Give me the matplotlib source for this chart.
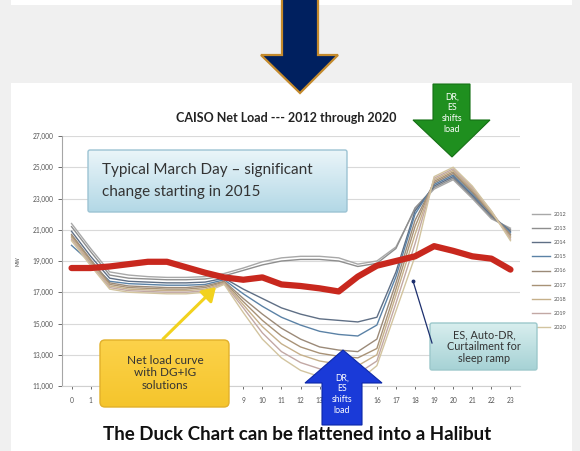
import matplotlib
matplotlib.use('Agg')
import matplotlib.pyplot as plt
from matplotlib.patches import Polygon, FancyBboxPatch, Rectangle
import numpy as np

# CAISO net load, typical March day, MW by hour
hours = list(range(24))
years = ['2012', '2013', '2014', '2015', '2016', '2017', '2018', '2019', '2020']
load_2012 = [21400, 19800, 18300, 18100, 18000, 17950, 17950, 18000, 18200, 18550, 18950, 19200,
             19300, 19300, 19200, 18800, 19000, 19900, 22300, 23600, 24200, 23000, 21700, 21100]
load_2013 = [21200, 19600, 18100, 17900, 17850, 17800, 17800, 17850, 18050, 18400, 18750, 19000,
             19100, 19100, 19000, 18650, 18850, 19800, 22400, 23700, 24300, 23100, 21800, 21000]
load_2014 = [20900, 19300, 17900, 17700, 17650, 17600, 17600, 17650, 17900, 17200, 16600, 16000,
             15600, 15300, 15200, 15100, 15400, 18300, 22200, 23800, 24400, 23200, 21900, 20900]
load_2015 = [20000, 18900, 17700, 17550, 17500, 17450, 17450, 17500, 17800, 16900, 16100, 15400,
             14900, 14500, 14300, 14200, 14900, 18000, 22000, 23900, 24500, 23300, 22000, 20800]
load_2016 = [20700, 19100, 17600, 17400, 17350, 17300, 17300, 17400, 17700, 16600, 15600, 14700,
             14000, 13500, 13300, 13200, 14000, 17600, 21600, 24000, 24600, 23400, 22000, 20700]
load_2017 = [20600, 19000, 17500, 17300, 17250, 17200, 17200, 17300, 17650, 16400, 15200, 14200,
             13500, 13100, 12900, 12800, 13400, 17200, 21200, 24100, 24700, 23500, 22100, 20600]
load_2018 = [20500, 18900, 17400, 17200, 17150, 17100, 17100, 17200, 17600, 16200, 14800, 13700,
             13000, 12600, 12400, 12300, 13000, 16800, 20700, 24200, 24800, 23600, 22100, 20500]
load_2019 = [20400, 18800, 17300, 17100, 17050, 17000, 17000, 17100, 17550, 16000, 14400, 13200,
             12500, 12100, 11900, 11800, 12600, 16300, 20100, 24300, 24900, 23700, 22200, 20400]
load_2020 = [20300, 18700, 17200, 17000, 16950, 16900, 16900, 17000, 17500, 15700, 14000, 12800,
             12000, 11600, 11400, 11300, 12300, 15800, 19300, 24400, 25000, 23800, 22200, 20300]
halibut = [18550, 18550, 18650, 18800, 18950, 18950, 18600, 18250, 17950, 17800, 17950, 17500,
           17400, 17250, 17050, 18000, 18700, 19000, 19300, 19950, 19650, 19300, 19150, 18450]
year_colors = ['#a8a8a8', '#8e8e8e', '#5f6f85', '#5b82a6', '#9b8a78', '#a89276', '#c6b08a',
               '#c2a8a4', '#d2c49f']
yticks = list(range(11000, 27001, 2000))
# hour labels hidden behind the blue arrow are left blank
xlabels = [str(h) if h not in (14, 15) else '' for h in hours]

plt.rcParams['font.family'] = ['Lato', 'DejaVu Sans']

fig = plt.figure(figsize=(5.8, 4.51), dpi=100, facecolor='#f0f0f0')

# background slide panels (pixel coordinates)
bg = fig.add_axes([0, 0, 1, 1], zorder=-1)
bg.set_xlim(0, 580)
bg.set_ylim(451, 0)
bg.axis('off')
bg.add_patch(Rectangle((11, 0), 561, 5, facecolor='white', edgecolor='none'))
bg.add_patch(Rectangle((11, 83), 561, 400, facecolor='white', edgecolor='none'))

# main chart
ax = fig.add_axes([62 / 580, 1 - 386 / 451, 458 / 580, 250 / 451], zorder=1)
ax.set_facecolor('none')
series = [load_2012, load_2013, load_2014, load_2015, load_2016, load_2017, load_2018,
          load_2019, load_2020]
for yr, vals, c in zip(years, series, year_colors):
    ax.plot(hours, vals, color=c, lw=1.0, label=yr)
ax.plot(hours, halibut, color='#c8281e', lw=4.5, solid_capstyle='round', zorder=5)

ax.set_xlim(-0.5, 23.5)
ax.set_ylim(11000, 27000)
ax.set_yticks(yticks)
ax.set_yticklabels([f'{v:,}' for v in yticks])
ax.set_xticks(hours)
ax.set_xticklabels(xlabels)
ax.grid(axis='y', color='#d9d9d9', lw=0.8)
ax.set_axisbelow(True)
for s in ['top', 'right']:
    ax.spines[s].set_visible(False)
ax.spines['left'].set_color('#a6a6a6')
ax.spines['bottom'].set_color('#d0d0d0')
ax.tick_params(axis='y', labelsize=4.8, colors='#555555', length=3, pad=3, width=0.6)
ax.tick_params(axis='x', labelsize=4.8, colors='#555555', length=2, pad=6, width=0.6)
ax.set_ylabel('MW', fontsize=3.5, color='#444444', labelpad=9)
ax.legend(loc='center left', bbox_to_anchor=(1.015, 0.46), frameon=False, fontsize=4,
          handlelength=3.2, labelspacing=1.65, labelcolor='#555555')
ax.set_title('CAISO Net Load --- 2012 through 2020', fontsize=9, fontweight='bold',
             color='#222222', pad=10, x=0.49)

# overlay annotations (pixel coordinates)
ov = fig.add_axes([0, 0, 1, 1], zorder=5)
ov.set_xlim(0, 580)
ov.set_ylim(451, 0)
ov.axis('off')


def grad_box(x, y, w, h, top, bottom, edge, rad=2):
    box = FancyBboxPatch((x, y), w, h, boxstyle=f'round,pad=0,rounding_size={rad}',
                         facecolor='none', edgecolor=edge, lw=1.0, zorder=3)
    ov.add_patch(box)
    g = np.linspace(0, 1, 64).reshape(-1, 1)
    c0 = np.array(matplotlib.colors.to_rgb(top))
    c1 = np.array(matplotlib.colors.to_rgb(bottom))
    img = c0 + (c1 - c0) * g[:, :, None]
    im = ov.imshow(img, extent=(x, x + w, y + h, y), aspect='auto', zorder=2)
    im.set_clip_path(box)


# big navy arrow at top
ov.add_patch(Polygon([(282, -2), (318, -2), (318, 55), (338, 55), (300, 93), (261, 55), (282, 55)],
                     closed=True, facecolor='#00205f', edgecolor='#c48a2c', lw=1.6, zorder=4))

# green arrow
ov.add_patch(Polygon([(433, 84), (470, 84), (470, 120), (490, 120), (452, 157), (413, 120), (433, 120)],
                     closed=True, facecolor='#1f8f1f', edgecolor='#157015', lw=0.8, zorder=4))
ov.text(452, 113, 'DR,\nES\nshifts\nload', color='white', fontsize=6.3, ha='center', va='center',
        linespacing=1.25, zorder=6)

# blue arrow
ov.add_patch(Polygon([(322, 425), (362, 425), (362, 383), (382, 383), (343, 350), (305, 383), (322, 383)],
                     closed=True, facecolor='#1a3ad8', edgecolor='#0c28a8', lw=0.8, zorder=4))
ov.text(342, 394, 'DR,\nES\nshifts\nload', color='white', fontsize=6.3, ha='center', va='center',
        linespacing=1.25, zorder=6)

# Typical March Day box
grad_box(88, 150, 259, 62, '#eaf5f9', '#b3d8e6', '#9cc3d3')
ov.text(102, 170, 'Typical March Day \u2013 significant', fontsize=11, color='#333333',
        va='center', ha='left', zorder=6)
ov.text(102, 192, 'change starting in 2015', fontsize=11, color='#333333',
        va='center', ha='left', zorder=6)

# yellow box and arrow
ov.annotate('', xy=(216, 287), xytext=(163, 339),
            arrowprops=dict(arrowstyle='-|>,head_length=0.8,head_width=0.5', color='#f2d21e',
                            lw=2.2, shrinkA=0, shrinkB=0), zorder=4)
grad_box(100, 340, 129, 67, '#fcd24a', '#f5c52c', '#e2b02a', rad=5)
ov.text(165, 373, 'Net load curve\nwith DG+IG\nsolutions', fontsize=8.5, color='#333333',
        ha='center', va='center', linespacing=1.15, zorder=6)

# teal box with pointer
ov.plot([413, 432], [281, 343], color='#1c2f6e', lw=0.9, zorder=4)
ov.plot([413], [281], 'o', color='#1c2f6e', ms=1.8, zorder=4)
grad_box(430, 323, 107, 47, '#d8eeee', '#a6d2d5', '#9cc8cb')
ov.text(484, 347, 'ES, Auto-DR,\nCurtailment for\nsleep ramp', fontsize=7.8, color='#333333',
        ha='center', va='center', linespacing=1.1, zorder=6)

# caption
ov.text(297, 435, 'The Duck Chart can be flattened into a Halibut', fontsize=13.5,
        fontweight='bold', color='#111111', ha='center', va='center', zorder=6)

fig.savefig('out.png', dpi=100, facecolor=fig.get_facecolor())
